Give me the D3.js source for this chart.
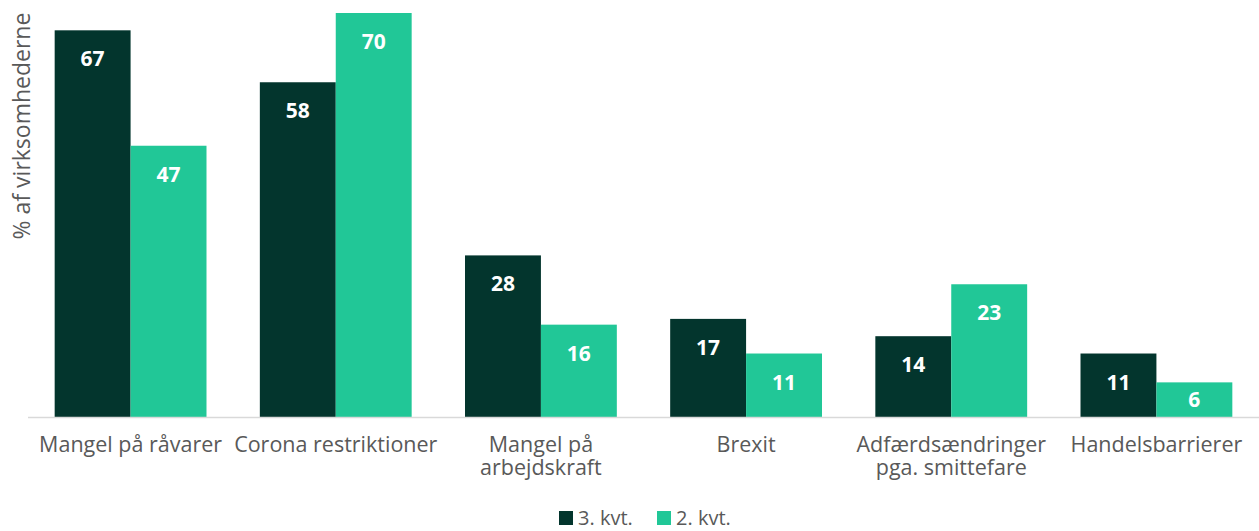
<!DOCTYPE html>
<html><head><meta charset="utf-8">
<script src="https://cdn.jsdelivr.net/npm/d3@7"></script>
<style>body{margin:0;background:#fff}svg{display:block}</style>
</head><body>
<svg id="c" width="1259" height="531"></svg>
<script>
const categories = [["Mangel på råvarer"],["Corona restriktioner"],["Mangel på","arbejdskraft"],["Brexit"],["Adfærdsændringer","pga. smittefare"],["Handelsbarrierer"]];
const seriesNames = ["3. kvt.","2. kvt."];
const q3 = [67,58,28,17,14,11];
const q2 = [47,70,16,11,23,6];
const colors = ["#03352D","#21C797"];
const yTitle = "% af virksomhederne";

const font = "'Open Sans', sans-serif";
const svg = d3.select("#c");
const x = d3.scaleBand().domain(d3.range(categories.length)).range([28,1259]).paddingInner(0.26).paddingOuter(0.13);
const xs = d3.scaleBand().domain([0,1]).range([0,x.bandwidth()]);
const y = d3.scaleLinear().domain([0,70]).range([417,13]);
const series = [q3,q2];

const g = svg.append("g");
series.forEach((vals,si)=>{
  g.selectAll(null).data(vals).enter().append("rect")
    .attr("x",(d,i)=>x(i)+xs(si)).attr("width",xs.bandwidth())
    .attr("y",d=>y(d)).attr("height",d=>y(0)-y(d))
    .attr("fill",colors[si]);
  g.selectAll(null).data(vals).enter().append("text")
    .attr("x",(d,i)=>x(i)+xs(si)+xs.bandwidth()/2)
    .attr("y",d=>Math.min(y(d)+28.5,(y(d)+y(0))/2))
    .attr("dy","0.36em").attr("text-anchor","middle")
    .attr("fill","#fff").attr("font-weight","bold").attr("font-family",font).attr("font-size",21)
    .text(d=>d);
});

// x axis
const xAxis = d3.axisBottom(x).tickSize(0).tickFormat("");
const ax = svg.append("g").attr("transform","translate(0,417.5)").call(xAxis);
ax.select(".domain").attr("stroke","#d9d9d9").attr("stroke-width",1.5).attr("d","M28,0H1259");
ax.selectAll(".tick").each(function(d){
  const tick = d3.select(this);
  categories[d].forEach((line,k)=>tick.append("text").attr("x",0).attr("y",34+k*23)
    .attr("fill","#595959").attr("font-family",font).attr("font-size",21.5).attr("text-anchor","middle").text(line));
});

svg.append("text").attr("transform","translate(30,126) rotate(-90)").attr("text-anchor","middle")
  .attr("fill","#595959").attr("font-family",font).attr("font-size",23).text(yTitle);

// legend
const leg = svg.append("g");
const lx = [559,657];
seriesNames.forEach((n,i)=>{
  leg.append("rect").attr("x",lx[i]).attr("y",511).attr("width",14).attr("height",14).attr("fill",colors[i]);
  leg.append("text").attr("x",lx[i]+19).attr("y",525).attr("fill","#595959").attr("font-family",font).attr("font-size",20).text(n);
});
</script>
</body></html>
